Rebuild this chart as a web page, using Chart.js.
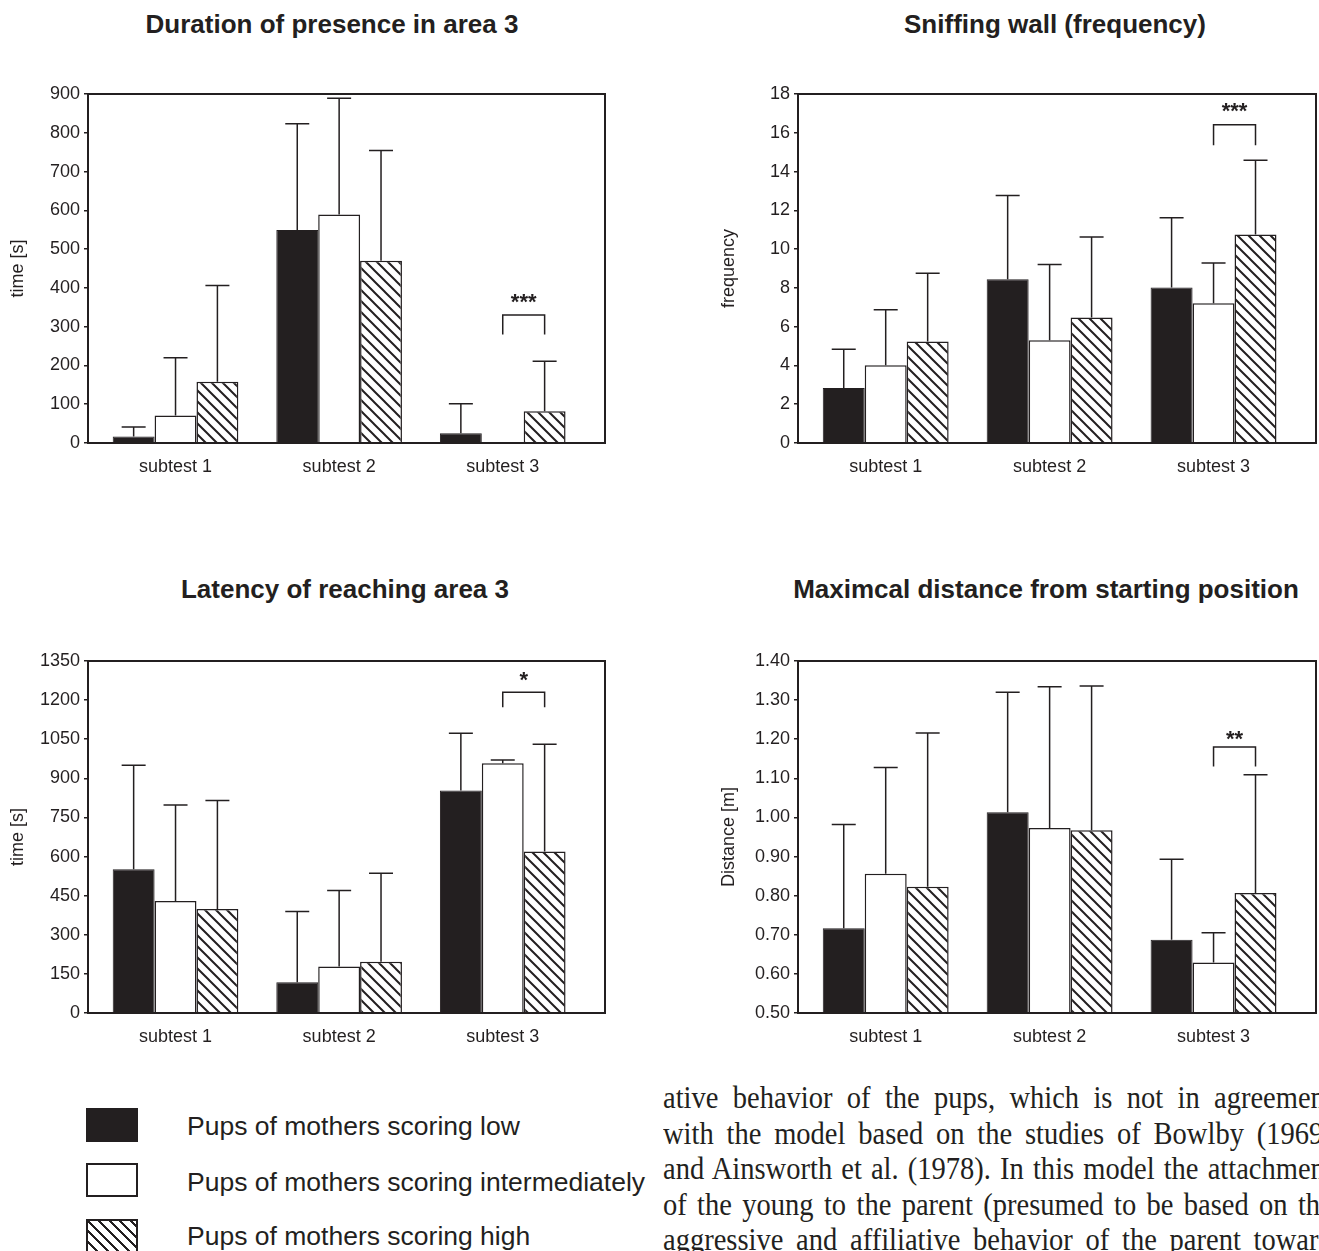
<!DOCTYPE html>
<html><head><meta charset="utf-8">
<script src="https://cdn.jsdelivr.net/npm/chart.js@4.4.1/dist/chart.umd.min.js"></script>
<style>
html,body{margin:0;padding:0;background:#fff;}
body{width:1319px;height:1251px;overflow:hidden;position:relative;font-family:"Liberation Sans",Arial,sans-serif;color:#231f20;}
.title{position:absolute;width:760px;text-align:center;font-weight:bold;font-size:26px;line-height:30px;white-space:nowrap;}
canvas{position:absolute;}
.sw{position:absolute;left:86px;width:52px;height:34px;box-sizing:border-box;}
.lt{position:absolute;left:187px;font-size:26.5px;line-height:32px;white-space:nowrap;}
.para{position:absolute;left:663px;width:728px;font-family:"Liberation Serif","Times New Roman",serif;font-size:31px;line-height:36px;white-space:nowrap;text-align:justify;text-align-last:justify;color:#231f20;transform:scaleX(0.92);transform-origin:0 0;}
</style></head><body>
<div class="title" style="left:-48px;top:9px">Duration of presence in area 3</div>
<div class="title" style="left:675px;top:9px">Sniffing wall (frequency)</div>
<div class="title" style="left:-35px;top:574px">Latency of reaching area 3</div>
<div class="title" style="left:666px;top:574px">Maximcal distance from starting position</div>

<canvas id="c1" width="660" height="440" style="left:0;top:50px"></canvas>
<canvas id="c2" width="608" height="440" style="left:711px;top:50px"></canvas>
<canvas id="c3" width="660" height="440" style="left:0;top:617px"></canvas>
<canvas id="c4" width="608" height="440" style="left:711px;top:617px"></canvas>

<div class="sw" style="top:1108px;background:#231f20"></div>
<div class="lt" style="top:1110px">Pups of mothers scoring low</div>
<div class="sw" style="top:1163px;border:2px solid #231f20;background:#fff"></div>
<div class="lt" style="top:1166px">Pups of mothers scoring intermediately</div>
<div class="sw" style="top:1219px;border:2px solid #231f20;background:repeating-linear-gradient(45deg,#fff 0px,#fff 5.5px,#231f20 5.5px,#231f20 7.5px)"></div>
<div class="lt" style="top:1220px">Pups of mothers scoring high</div>

<div class="para" style="top:1080px">ative behavior of the pups, which is not in agreement</div>
<div class="para" style="top:1115.5px">with the model based on the studies of Bowlby (1969)</div>
<div class="para" style="top:1151px">and Ainsworth et al. (1978). In this model the attachment</div>
<div class="para" style="top:1186.5px">of the young to the parent (presumed to be based on the</div>
<div class="para" style="top:1222px">aggressive and affiliative behavior of the parent toward</div>
<div class="para" style="top:1257.5px">the offspring) is directly reflected in the pup behavior</div>

<script>
// ---------- data ----------
const categories = ['subtest 1', 'subtest 2', 'subtest 3'];
const seriesNames = ['Pups of mothers scoring low', 'Pups of mothers scoring intermediately', 'Pups of mothers scoring high'];

// Duration of presence in area 3 (time [s]) — mean and upper end of error bar
const durLow = [17, 549, 25];
const durMid = [71, 589, 0];
const durHigh = [158, 470, 82];
const durLowErr = [41, 823, 101];
const durMidErr = [220, 889, null];
const durHighErr = [406, 754, 211];
const durTicks = ['0', '100', '200', '300', '400', '500', '600', '700', '800', '900'];
const durSig = ['***', 330, 280, 372]; // stars, bracket top, leg end, label

// Sniffing wall (frequency)
const snLow = [2.84, 8.45, 8.02];
const snMid = [4.01, 5.30, 7.21];
const snHigh = [5.23, 6.47, 10.76];
const snLowErr = [4.84, 12.77, 11.62];
const snMidErr = [6.87, 9.21, 9.28];
const snHighErr = [8.76, 10.62, 14.58];
const snTicks = ['0', '2', '4', '6', '8', '10', '12', '14', '16', '18'];
const snSig = ['***', 16.42, 15.36, 17.3];

// Latency of reaching area 3 (time [s])
const latLow = [551, 118, 853];
const latMid = [430, 178, 958];
const latHigh = [399, 197, 619];
const latLowErr = [950, 389, 1073];
const latMidErr = [798, 470, 970];
const latHighErr = [815, 536, 1031];
const latTicks = ['0', '150', '300', '450', '600', '750', '900', '1050', '1200', '1350'];
const latSig = ['*', 1230, 1173, 1290];

// Maximal distance from starting position (Distance [m])
const distLow = [0.717, 1.013, 0.687];
const distMid = [0.856, 0.973, 0.629];
const distHigh = [0.823, 0.967, 0.807];
const distLowErr = [0.982, 1.320, 0.893];
const distMidErr = [1.128, 1.334, 0.705];
const distHighErr = [1.216, 1.336, 1.109];
const distTicks = ['0.50', '0.60', '0.70', '0.80', '0.90', '1.00', '1.10', '1.20', '1.30', '1.40'];
const distSig = ['**', 1.18, 1.13, 1.208];

// ---------- styling ----------
const INK = '#231f20';
Chart.defaults.font.family = '"Liberation Sans", Arial, sans-serif';
Chart.defaults.color = INK;

function hatchPattern() {
  const c = document.createElement('canvas');
  const s = 11;
  c.width = s; c.height = s;
  const g = c.getContext('2d');
  g.fillStyle = '#fff';
  g.fillRect(0, 0, s, s);
  g.strokeStyle = INK;
  g.lineWidth = 2;
  g.lineCap = 'square';
  g.beginPath();
  g.moveTo(-2, -2); g.lineTo(s + 2, s + 2);
  g.moveTo(-2, s - 2); g.lineTo(2, s + 2);
  g.moveTo(s - 2, -2); g.lineTo(s + 2, 2);
  g.stroke();
  return g.createPattern(c, 'repeat');
}

const framePlugin = {
  id: 'frame',
  afterDraw(chart) {
    const a = chart.chartArea, ctx = chart.ctx;
    ctx.save();
    ctx.strokeStyle = INK;
    ctx.lineWidth = 2;
    ctx.strokeRect(a.left, a.top, a.right - a.left, a.bottom - a.top);
    ctx.restore();
  }
};

const errorPlugin = {
  id: 'errbars',
  afterDatasetsDraw(chart) {
    const ctx = chart.ctx, y = chart.scales.y;
    ctx.save();
    ctx.strokeStyle = INK;
    ctx.lineWidth = 1.5;
    chart.data.datasets.forEach((ds, di) => {
      const meta = chart.getDatasetMeta(di);
      meta.data.forEach((bar, i) => {
        const e = ds.errTop[i];
        if (e === null || e === undefined) return;
        const ey = y.getPixelForValue(e);
        ctx.beginPath();
        ctx.moveTo(bar.x, bar.y);
        ctx.lineTo(bar.x, ey);
        ctx.moveTo(bar.x - 12, ey);
        ctx.lineTo(bar.x + 12, ey);
        ctx.stroke();
      });
    });
    // significance bracket between intermediate and high, subtest 3
    const sig = chart.options.plugins.errbars.sig;
    const b1 = chart.getDatasetMeta(1).data[2], b2 = chart.getDatasetMeta(2).data[2];
    const yt = y.getPixelForValue(sig[1]), yl = y.getPixelForValue(sig[2]), ys = y.getPixelForValue(sig[3]);
    ctx.beginPath();
    ctx.moveTo(b1.x, yl); ctx.lineTo(b1.x, yt); ctx.lineTo(b2.x, yt); ctx.lineTo(b2.x, yl);
    ctx.stroke();
    ctx.fillStyle = INK;
    ctx.font = 'bold 22px "Liberation Sans", Arial, sans-serif';
    ctx.textAlign = 'center';
    ctx.textBaseline = 'middle';
    ctx.fillText(sig[0], (b1.x + b2.x) / 2, ys + 4);
    ctx.restore();
  }
};

function makeChart(id, low, mid, high, lowE, midE, highE, ticks, yTitle, sig, dims) {
  const pts = arr => arr.map((v, i) => ({ x: i + 1, y: v }));
  const tickVals = ticks.map(Number);
  const hatch = hatchPattern();
  return new Chart(document.getElementById(id), {
    type: 'bar',
    data: {
      datasets: [
        { label: seriesNames[0], data: pts(low), errTop: lowE, backgroundColor: INK, borderColor: INK, borderWidth: 1 },
        { label: seriesNames[1], data: pts(mid), errTop: midE, backgroundColor: '#fff', borderColor: INK, borderWidth: 1.5 },
        { label: seriesNames[2], data: pts(high), errTop: highE, backgroundColor: hatch, borderColor: INK, borderWidth: 1.5 }
      ]
    },
    options: {
      responsive: false,
      animation: false,
      layout: { padding: { left: 0, top: dims.top, right: dims.right, bottom: 0 } },
      datasets: { bar: { categoryPercentage: 0.768, barPercentage: 1.0, borderSkipped: 'start' } },
      plugins: { legend: { display: false }, tooltip: { enabled: false }, errbars: { sig: sig } },
      scales: {
        x: {
          type: 'linear',
          offset: false,
          bounds: 'ticks',
          grace: 0,
          min: 0.465, max: 3.625,
          afterBuildTicks: s => { s.ticks = categories.map((c, i) => ({ value: i + 1 })); },
          afterDataLimits: s => { s.min = 0.465; s.max = 3.625; },
          afterFit: s => { s.height = dims.xh; },
          grid: { display: false, drawTicks: false, offset: false },
          border: { display: false },
          ticks: { callback: v => categories[v - 1], font: { size: 18 }, padding: 13, color: INK, maxRotation: 0, includeBounds: false }
        },
        y: {
          min: tickVals[0], max: tickVals[tickVals.length - 1],
          afterBuildTicks: s => { s.ticks = tickVals.map(v => ({ value: v })); },
          afterFit: s => { s.width = dims.yw; },
          grid: { display: true, drawOnChartArea: false, drawTicks: true, tickLength: 4, color: INK, lineWidth: 1.5 },
          border: { display: false },
          ticks: { callback: (v, i) => ticks[i], font: { size: 18 }, padding: 4, color: INK },
          title: { display: true, text: yTitle, font: { size: 18 }, color: INK, padding: { top: 7, bottom: 0 } }
        }
      }
    },
    plugins: [framePlugin, errorPlugin]
  });
}

const leftDims = { top: 44, right: 55, xh: 47, yw: 88 };
const rightDims = { top: 44, right: 3, xh: 47, yw: 87 };
const leftDimsB = { top: 44, right: 55, xh: 44, yw: 88 };
const rightDimsB = { top: 44, right: 3, xh: 44, yw: 87 };

makeChart('c1', durLow, durMid, durHigh, durLowErr, durMidErr, durHighErr, durTicks, 'time [s]', durSig, leftDims);
makeChart('c2', snLow, snMid, snHigh, snLowErr, snMidErr, snHighErr, snTicks, 'frequency', snSig, rightDims);
makeChart('c3', latLow, latMid, latHigh, latLowErr, latMidErr, latHighErr, latTicks, 'time [s]', latSig, leftDimsB);
makeChart('c4', distLow, distMid, distHigh, distLowErr, distMidErr, distHighErr, distTicks, 'Distance [m]', distSig, rightDimsB);
</script>
</body></html>
